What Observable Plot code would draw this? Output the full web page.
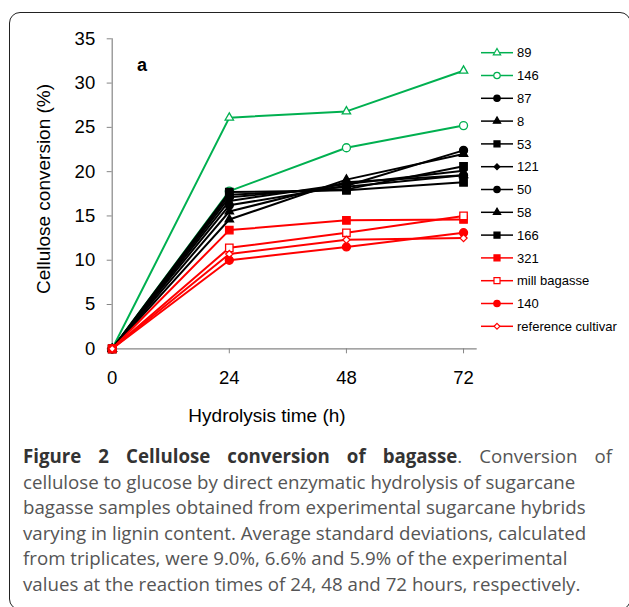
<!DOCTYPE html>
<html><head><meta charset="utf-8">
<script src="https://cdn.jsdelivr.net/npm/d3@7"></script>
<script src="https://cdn.jsdelivr.net/npm/@observablehq/plot@0.6"></script>
<style>
html,body{margin:0;padding:0;background:#fff;}
#wrap{position:relative;width:629px;height:607px;overflow:hidden;}
#frame{position:absolute;left:9px;top:12px;width:622px;height:598px;border:1.4px solid #222;border-radius:11px;box-sizing:border-box;}
#chart{position:absolute;left:0;top:0;}
#overlay{position:absolute;left:0;top:0;}
.cap{position:absolute;left:23px;font-family:"Open Sans",sans-serif;font-size:18.7px;color:#555;white-space:nowrap;line-height:1;}
.cap b{color:#333;font-weight:700;}
#l1{width:589px;text-align:justify;text-align-last:justify;white-space:normal;}
</style></head><body>
<div id="wrap">
  <div id="frame"></div>
  <div id="chart"></div>
  <svg id="overlay" width="629" height="440"></svg>
  <div class="cap" id="l1"></div>
  <div class="cap" id="l2"></div>
  <div class="cap" id="l3"></div>
  <div class="cap" id="l4"></div>
  <div class="cap" id="l5"></div>
  <div class="cap" id="l6"></div>
</div>
<script>
// ---- data ----
const times = [0, 24, 48, 72];
const xTicks = [0, 24, 48, 72];
const yTicks = [0, 5, 10, 15, 20, 25, 30, 35];
const seriesNames = ["89", "146", "87", "8", "53", "121", "50", "58", "166", "321", "mill bagasse", "140", "reference cultivar"];
const seriesColors = ["#00b050", "#00b050", "#000000", "#000000", "#000000", "#000000", "#000000", "#000000", "#000000", "#ff0000", "#ff0000", "#ff0000", "#ff0000"];
const seriesSymbols = ["triangle", "circle", "circle", "triangle", "square", "diamond2", "circle", "triangle", "square", "square", "square", "circle", "diamond2"];
const seriesFilled = [false, false, true, true, true, true, true, true, true, true, false, true, false];
const v89 = [0, 26.1, 26.8, 31.4];
const v146 = [0, 17.8, 22.7, 25.2];
const v87 = [0, 16.2, 18.4, 22.4];
const v8 = [0, 14.6, 19.1, 22.0];
const v53 = [0, 17.4, 18.0, 20.6];
const v121 = [0, 16.7, 18.6, 20.1];
const v50 = [0, 17.1, 18.3, 19.6];
const v58 = [0, 15.5, 18.8, 19.6];
const v166 = [0, 17.7, 17.9, 18.8];
const v321 = [0, 13.4, 14.5, 14.6];
const vMill = [0, 11.4, 13.1, 15.0];
const v140 = [0, 10.0, 11.5, 13.1];
const vRef = [0, 10.7, 12.3, 12.5];
const seriesValues = [v89, v146, v87, v8, v53, v121, v50, v58, v166, v321, vMill, v140, vRef];

const xTitle = "Hydrolysis time (h)";
const yTitle = "Cellulose conversion (%)";
const panelLabel = "a";
const captionLines = [
  ["Figure 2 Cellulose conversion of bagasse", ". Conversion of"],
  "cellulose to glucose by direct enzymatic hydrolysis of sugarcane",
  "bagasse samples obtained from experimental sugarcane hybrids",
  "varying in lignin content. Average standard deviations, calculated",
  "from triplicates, were 9.0%, 6.6% and 5.9% of the experimental",
  "values at the reaction times of 24, 48 and 72 hours, respectively."
];

// ---- chart ----
const symbolR = {triangle: 3.1, circle: 4, square: 4.2, diamond2: 3.2};
const rows = [];
seriesNames.forEach((n, i) => times.forEach((t, j) => rows.push({series: n, idx: i, t, v: seriesValues[i][j]})));

const W = 629, H = 440;
const mL = 111.7, mR = 629 - 476.7, mT = 38.3, mB = H - 348.3;
const marks = [
  Plot.ruleY([0], {stroke: "#868686", strokeWidth: 1.2}),
  Plot.ruleX([0], {stroke: "#868686", strokeWidth: 1.2}),
  Plot.axisX({ticks: xTicks, tickSize: 5, tickPadding: 17, fontSize: 18.5, stroke: "#868686", fill: "#000", label: null, tickFormat: d => String(d)}),
  Plot.axisY({ticks: yTicks, tickSize: 5, tickPadding: 12, fontSize: 18.5, stroke: "#868686", fill: "#000", label: null, tickFormat: d => String(d)})
];
seriesNames.forEach((n, i) => {
  const d = rows.filter(r => r.idx === i);
  marks.push(Plot.line(d, {x: "t", y: "v", stroke: seriesColors[i], strokeWidth: 2}));
  marks.push(Plot.dot(d, {x: "t", y: "v", symbol: seriesSymbols[i], r: symbolR[seriesSymbols[i]] * (seriesSymbols[i] === "diamond2" && seriesFilled[i] ? 0.85 : 1),
    fill: seriesFilled[i] ? seriesColors[i] : "#fff", stroke: seriesColors[i], strokeWidth: 1.3}));
});

const chart = Plot.plot({
  width: W, height: H,
  marginLeft: mL, marginRight: mR, marginTop: mT, marginBottom: mB,
  x: {domain: [0, 74.8]},
  y: {domain: [0, 35]},
  style: {fontFamily: "'Liberation Sans', Arial, sans-serif", background: "transparent", color: "#000"},
  marks
});
document.getElementById("chart").appendChild(chart);

// ---- overlay text & legend ----
const ov = d3.select("#overlay").style("font-family", "'Liberation Sans', Arial, sans-serif");
ov.append("text").attr("x", 137).attr("y", 71).attr("font-size", 18).attr("font-weight", "bold").text(panelLabel);
ov.append("text").attr("x", 267).attr("y", 421.5).attr("font-size", 19).attr("text-anchor", "middle").text(xTitle);
ov.append("text").attr("transform", "translate(49.5,189) rotate(-90)").attr("font-size", 19).attr("text-anchor", "middle").text(yTitle);

const symMap = {triangle: d3.symbolTriangle, circle: d3.symbolCircle, square: d3.symbolSquare, diamond2: d3.symbolDiamond2};
const legR = {triangle: 2.7, circle: 3.2, square: 3.4, diamond2: 2.6};
const lg = ov.append("g");
seriesNames.forEach((n, i) => {
  const y = 52.7 + 22.8 * i;
  const g = lg.append("g").attr("transform", `translate(0,${y})`);
  g.append("line").attr("x1", 481).attr("x2", 513).attr("stroke", seriesColors[i]).attr("stroke-width", 1.5);
  const r = legR[seriesSymbols[i]];
  g.append("path").attr("transform", "translate(497,0)")
    .attr("d", d3.symbol(symMap[seriesSymbols[i]], Math.PI * r * r)())
    .attr("fill", seriesFilled[i] ? seriesColors[i] : "#fff")
    .attr("stroke", seriesColors[i]).attr("stroke-width", 1.2);
  g.append("text").attr("x", 517).attr("y", 4.7).attr("font-size", 13).attr("fill", "#000").text(n);
});

// ---- caption ----
const baselines = [463, 488.6, 514.2, 539.8, 565.4, 591];
captionLines.forEach((ln, i) => {
  const el = document.getElementById("l" + (i + 1));
  if (Array.isArray(ln)) {
    el.innerHTML = "";
    const b = document.createElement("b"); b.textContent = ln[0]; el.appendChild(b);
    el.appendChild(document.createTextNode(ln[1]));
  } else el.textContent = ln;
  el.style.top = (baselines[i] - 18.7 * 0.86) + "px";
});
</script>
</body></html>
